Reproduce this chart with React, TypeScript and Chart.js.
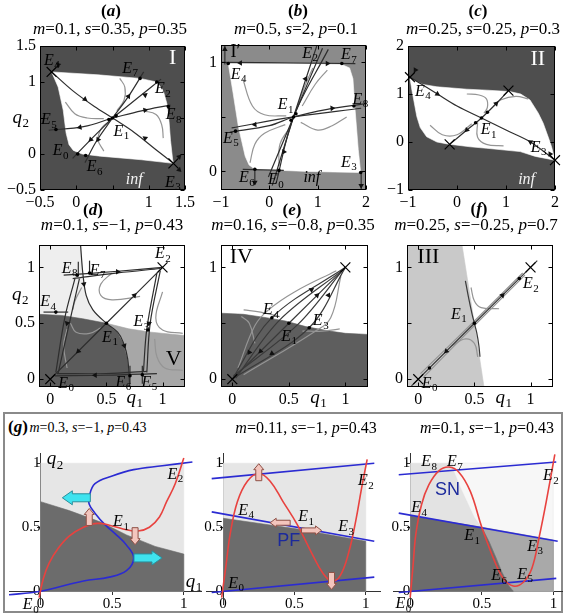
import React, { useEffect, useRef } from 'react';
import { Chart, registerables } from 'chart.js';
Chart.register(...registerables);

type XY = [number, number];
type Arrow = [number, number, number];

const SERIF = '"Liberation Serif", "DejaVu Serif", serif';
const SANS = '"Liberation Sans", "DejaVu Sans", sans-serif';

// ================= (a) m=0.1, s=0.35, p=0.35 =================
const aXTicks = [-0.5, 0, 0.5, 1, 1.5];
const aXLabels = [-0.5, 0, 1, 1.5];
const aYTicks = [-0.5, 0, 0.5, 1, 1.5];
const aYLabels = [-0.5, 0, 1, 1.5];
const aBasin: XY[] = [[-0.34, 1.14], [0.3, 1.1], [0.88, 1.05], [1.11, 1.0], [1.2, 0.88], [1.25, 0.7], [1.28, 0.45], [1.3, 0.19], [1.33, -0.08], [1.34, -0.13], [0.9, -0.08], [0.33, -0.03], [0.08, 0.0], [-0.04, 0.05], [-0.1, 0.13], [-0.14, 0.29], [-0.18, 0.61], [-0.25, 0.93], [-0.34, 1.14]];
const aSeparatrices: XY[][] = [
  [[-0.34, 1.14], [-0.05, 0.88], [0.25, 0.66], [0.5, 0.5], [0.8, 0.3], [1.1, 0.06], [1.34, -0.13]],
  [[0.5, 0.5], [0.72, 0.8], [0.93, 1.14]],
  [[0.5, 0.5], [0.85, 0.78], [1.17, 1.04]],
  [[0.5, 0.5], [0.9, 0.6], [1.3, 0.68]],
  [[-0.38, 0.33], [0.1, 0.38], [0.5, 0.5]],
  [[-0.05, -0.06], [0.2, 0.2], [0.5, 0.5]],
  [[0.12, -0.12], [0.28, 0.18], [0.5, 0.5]],
];
const aOrbits: XY[][] = [
  [[-0.15, 0.72], [-0.02, 0.56], [0.15, 0.5], [0.38, 0.49]],
  [[0.6, 1.05], [0.67, 0.93], [0.66, 0.75], [0.56, 0.6]],
  [[0.92, 0.6], [1.1, 0.55], [1.18, 0.4], [1.2, 0.22]],
  [[0.38, 0.04], [0.3, 0.2], [0.35, 0.36], [0.45, 0.45]],
];
const aSaddles: XY[] = [[-0.34, 1.14], [1.34, -0.13]];
const aNodes: XY[] = [[0.5, 0.5], [0.45, 0.48], [0.55, 0.53], [0.88, 1.05], [1.11, 1.0], [1.27, 0.66], [-0.28, 0.34], [0.02, 0.0], [0.13, -0.02]];
const aArrows: Arrow[] = [[0.12, 0.76, -37], [0.95, 0.22, 143], [0.72, 0.8, 55], [0.95, 0.82, 37], [0.95, 0.61, 11], [0.05, 0.37, 191], [0.2, 0.2, 225], [0.3, 0.2, 236], [-0.25, 1.24, 135], [1.42, -0.04, 45], [1.42, -0.22, -45]];

// ================= (b) m=0.5, s=2, p=0.1 =================
const bXTicks = [-1, 0, 1, 2];
const bXLabels = [-1, 0, 1, 2];
const bYTicks = [0, 0.5, 1];
const bYLabels = [0, 1];
const bBasin: XY[] = [[-0.85, 0.99], [0.3, 0.99], [1.5, 0.98], [1.66, 0.95], [1.73, 0.85], [1.77, 0.59], [1.84, 0.2], [1.89, -0.01], [0.8, 0.0], [-0.3, 0.02], [-0.42, 0.06], [-0.5, 0.14], [-0.64, 0.41], [-0.75, 0.72], [-0.85, 0.99]];
const bSeparatrices: XY[][] = [
  [[0.06, -0.13], [0.5, 0.5], [0.98, 1.15]],
  [[-0.02, -0.05], [0.5, 0.5], [1.1, 1.13]],
  [[0.14, -0.11], [0.5, 0.5], [1.22, 1.12]],
  [[-0.82, 0.36], [0.0, 0.42], [0.5, 0.5], [1.2, 0.57], [1.97, 0.62]],
  [[-0.78, 0.4], [0.5, 0.5], [1.9, 0.58]],
  [[-0.98, 1.0], [0.5, 0.995], [1.78, 0.99]],
  [[-0.92, 0.98], [-0.92, 1.15]],
  [[-0.55, 0.02], [0.3, 0.01]],
  [[-0.3, 0.01], [-0.3, -0.12]],
  [[1.9, 0.0], [1.9, -0.16]],
];
const bOrbits: XY[][] = [
  [[-0.55, 0.85], [-0.35, 0.6], [-0.1, 0.52], [0.35, 0.51]],
  [[1.2, 0.93], [0.95, 0.8], [0.68, 0.6]],
  [[0.9, 0.95], [0.75, 0.8], [0.6, 0.62]],
  [[0.33, 0.43], [-0.1, 0.35], [-0.3, 0.25], [-0.4, 0.08]],
  [[0.42, 0.4], [0.22, 0.25], [0.2, 0.05]],
  [[0.65, 0.45], [1.0, 0.38], [1.3, 0.42], [1.6, 0.5]],
];
const bNodes: XY[] = [[0.5, 0.5], [0.45, 0.47], [0.55, 0.53], [1.5, 0.99], [-0.85, 0.99], [-0.7, 0.37], [1.75, 0.6], [1.89, -0.01], [-0.3, 0.02], [0.2, 0.01]];
const bArrows: Arrow[] = [[0.3, 0.18, 237], [0.75, 0.85, 57], [-0.3, 0.43, 185], [1.3, 0.58, 5], [1.2, 0.99, 0], [-0.6, 0.995, 180], [-0.92, 1.12, 90], [1.9, -0.13, 270], [-0.3, -0.1, 270]];

// ================= (c) m=0.25, s=0.25, p=0.3 =================
const cXTicks = [-1, 0, 1, 2];
const cXLabels = [-1, 0, 1, 2];
const cYTicks = [-1, 0, 1, 2];
const cYLabels = [-1, 0, 1, 2];
const cBasin: XY[] = [[-0.96, 1.33], [-0.7, 1.2], [-0.41, 1.15], [0.2, 1.1], [0.61, 1.08], [1.08, 1.05], [1.3, 1.0], [1.49, 0.875], [1.66, 0.6], [1.76, 0.39], [1.88, 0.05], [1.93, -0.1], [2.0, -0.38], [1.6, -0.3], [1.29, -0.2], [0.6, -0.13], [0.27, -0.1], [-0.2, -0.04], [-0.41, 0.0], [-0.62, 0.11], [-0.75, 0.3], [-0.82, 0.53], [-0.92, 1.08], [-0.96, 1.33]];
const cSeparatrices: XY[][] = [
  [[-0.96, 1.35], [-0.4, 1.0], [0.0, 0.75], [0.5, 0.5], [1.0, 0.25], [1.5, 0.0], [2.0, -0.38]],
  [[-0.15, -0.05], [0.2, 0.25], [0.5, 0.5], [0.8, 0.8], [1.05, 1.07]],
];
const cOrbits: XY[][] = [
  [[0.2, 1.0], [0.45, 0.98], [0.6, 0.9], [0.62, 0.72], [0.55, 0.6]],
  [[0.75, 0.75], [0.9, 0.88], [1.2, 0.95], [1.45, 0.9]],
  [[-0.55, 0.35], [-0.3, 0.15], [0.0, 0.15], [0.3, 0.38]],
  [[0.42, 0.4], [0.42, 0.1], [0.6, -0.05], [0.95, -0.08]],
];
const cSaddles: XY[] = [[-0.96, 1.35], [2.0, -0.38], [1.05, 1.07], [-0.15, -0.05]];
const cNodes: XY[] = [[0.5, 0.5], [0.62, 0.62], [0.38, 0.4]];
const cArrows: Arrow[] = [[-0.4, 1.0, -32], [1.5, 0.0, 148], [0.2, 0.25, 225], [0.8, 0.8, 45], [-0.85, 1.5, 120], [1.9, -0.25, 120]];

// ================= (d) m=0.1, s=-1, p=0.43 =================
const unitTicks = [0, 0.5, 1];
const dYLabels = [0, 0.5, 1];
const dLight: XY[] = [[-0.1, 1.2], [0.27, 1.2], [0.29, 0.95], [0.32, 0.75], [0.38, 0.62], [0.5, 0.5], [0.29, 0.54], [-0.1, 0.58]];
const dDark: XY[] = [[-0.1, 0.58], [0.1, 0.57], [0.29, 0.54], [0.5, 0.5], [0.6, 0.42], [0.65, 0.33], [0.69, 0.18], [0.71, 0.0], [0.71, -0.1], [-0.1, -0.1]];
const dMedium: XY[] = [[0.5, 0.5], [0.7, 0.45], [0.9, 0.42], [1.2, 0.39], [1.2, -0.1], [0.71, -0.1], [0.71, 0.0], [0.69, 0.18], [0.65, 0.33], [0.6, 0.42], [0.5, 0.5]];
const dSeparatrices: XY[][] = [
  [[0.0, 0.0], [0.5, 0.5], [1.0, 1.0]],
  [[0.27, 1.2], [0.29, 0.95], [0.32, 0.75], [0.38, 0.62], [0.5, 0.5], [0.6, 0.42], [0.65, 0.33], [0.69, 0.18], [0.71, -0.1]],
  [[0.12, 0.93], [0.6, 0.965], [1.0, 1.0]],
  [[0.2, 0.9], [0.6, 0.95], [0.98, 0.99]],
  [[0.22, 0.9], [0.13, 0.55], [0.05, 0.06]],
  [[0.26, 0.9], [0.17, 0.5], [0.07, 0.05]],
  [[-0.06, 0.6], [0.16, 0.6]],
  [[0.04, 0.03], [0.5, 0.035], [0.95, 0.05]],
  [[0.06, 0.05], [0.5, 0.05], [0.86, 0.07]],
  [[0.98, 0.97], [0.89, 0.5], [0.86, 0.06]],
  [[0.95, 0.95], [0.86, 0.45], [0.83, 0.07]],
  [[0.25, 1.05], [0.25, 0.92]],
  [[0.35, 1.06], [0.35, 0.94]],
  [[0.71, 0.12], [0.71, -0.04]],
  [[0.82, 0.12], [0.82, -0.04]],
];
const dOrbits: XY[][] = [
  [[0.55, 0.95], [0.45, 0.85], [0.45, 0.75], [0.55, 0.71], [0.8, 0.74]],
  [[1.0, 0.78], [0.94, 0.55], [1.0, 0.44], [1.18, 0.41]],
  [[0.93, 0.36], [0.95, 0.2], [1.02, 0.1], [1.18, 0.08]],
  [[0.18, 0.5], [0.23, 0.42], [0.35, 0.41], [0.45, 0.46]],
  [[0.15, 0.45], [0.12, 0.3], [0.15, 0.1]],
  [[0.28, 0.82], [0.22, 0.7], [0.2, 0.62]],
];
const dSaddles: XY[] = [[0, 0], [1, 1]];
const dNodes: XY[] = [[0.5, 0.5], [0.87, 0.44], [0.05, 0.6], [0.24, 0.93], [0.35, 0.95], [0.71, 0.03], [0.82, 0.04]];
const dArrows: Arrow[] = [[0.25, 0.25, 225], [0.75, 0.75, 45], [0.6, 0.96, 0], [0.4, 0.035, 180], [0.15, 0.5, 255], [0.88, 0.5, 265], [0.3, 0.85, 280], [0.66, 0.3, 290]];

// ================= (e) m=0.16, s=-0.8, p=0.35 =================
const eYLabels = [0, 1];
const eDark: XY[] = [[-0.1, 0.59], [0.1, 0.58], [0.3, 0.55], [0.47, 0.52], [0.65, 0.47], [0.86, 0.43], [1.0, 0.41], [1.2, 0.4], [1.2, -0.1], [-0.1, -0.1]];
const eSeparatrices: XY[][] = [
  [[0.0, 0.0], [0.35, 0.55], [1.0, 1.0]],
  [[0.0, 0.0], [0.5, 0.5], [1.0, 1.0]],
  [[0.0, 0.0], [0.68, 0.46], [1.0, 1.0]],
  [[0.03, 0.01], [0.42, 0.53], [0.98, 0.98]],
  [[0.01, 0.03], [0.58, 0.49], [0.98, 0.98]],
];
const eOrbits: XY[][] = [
  [[0.05, 0.1], [0.2, 0.48], [0.32, 0.62], [0.55, 0.78], [0.92, 0.97]],
  [[0.1, 0.04], [0.72, 0.42], [0.87, 0.55], [0.96, 0.92]],
  [[0.1, 0.62], [0.25, 0.6], [0.42, 0.56]],
  [[0.62, 0.43], [0.8, 0.43], [0.95, 0.45]],
  [[0.08, 0.56], [0.15, 0.5], [0.2, 0.32]],
];
const eSaddles: XY[] = [[0, 0], [1, 1]];
const eNodes: XY[] = [[0.35, 0.55], [0.5, 0.5], [0.68, 0.46]];
const eArrows: Arrow[] = [[0.15, 0.24, 237], [0.25, 0.25, 225], [0.35, 0.23, 214], [0.7, 0.8, 34], [0.75, 0.75, 45], [0.85, 0.75, 60]];

// ================= (f) m=0.25, s=-0.25, p=0.7 =================
const fLeftRegion: XY[] = [[-0.1, 1.2], [0.39, 1.2], [0.5, 0.5], [0.59, -0.1], [-0.1, -0.1]];
const fSeparatrices: XY[][] = [
  [[-0.06, -0.06], [1.06, 1.06]],
  [[0.42, 0.88], [0.45, 0.72], [0.48, 0.58], [0.5, 0.5], [0.52, 0.42], [0.54, 0.3], [0.55, 0.2]],
];
const fOrbits: XY[][] = [
  [[0.05, 0.02], [0.5, 0.48], [0.95, 0.93]],
  [[0.02, 0.05], [0.5, 0.52], [0.93, 0.95]],
  [[0.47, 0.82], [0.5, 0.7], [0.56, 0.64], [0.72, 0.63]],
  [[0.3, 0.3], [0.42, 0.36], [0.5, 0.32], [0.53, 0.2]],
];
const fSaddles: XY[] = [[0, 0], [1, 1]];
const fNodes: XY[] = [[0.5, 0.5], [0.9, 0.9], [0.1, 0.1]];
const fArrows: Arrow[] = [[0.25, 0.25, 225], [0.75, 0.75, 45]];

// ================= (g) nullclines =================
const gTicks = [0, 0.5, 1];
const gSquare: XY[] = [[0, 0], [1, 0], [1, 1], [0, 1]];
// g1: m=0.3
const g1Basin: XY[] = [[0, 0], [1, 0], [1, 0.29], [0.8, 0.35], [0.6, 0.44], [0.42, 0.54], [0.2, 0.63], [0, 0.7]];
const g1Red: XY[] = [[-0.01, -0.05], [0.02, 0.1], [0.06, 0.22], [0.12, 0.33], [0.2, 0.43], [0.3, 0.5], [0.4, 0.53], [0.5, 0.51], [0.6, 0.48], [0.68, 0.47], [0.76, 0.5], [0.83, 0.58], [0.88, 0.7], [0.94, 0.84], [1.0, 1.04]];
const g1Blue: XY[] = [[-0.24, -0.03], [0.0, 0.0], [0.3, 0.08], [0.48, 0.11], [0.6, 0.16], [0.65, 0.26], [0.6, 0.36], [0.52, 0.45], [0.45, 0.52], [0.38, 0.61], [0.34, 0.68], [0.34, 0.74], [0.38, 0.84], [0.5, 0.9], [0.65, 0.95], [0.85, 0.98], [1.06, 1.01]];
// g2: m=0.11
const g2Basin: XY[] = [[0, 0], [1, 0], [1, 0.39], [0.5, 0.49], [0, 0.57]];
const g2BlueTop: XY[] = [[-0.08, 0.88], [1.06, 1.0]];
const g2BlueMid: XY[] = [[-0.08, 0.62], [1.06, 0.39]];
const g2BlueLow: XY[] = [[-0.08, -0.01], [1.06, 0.11]];
const g2Red: XY[] = [[-0.01, -0.05], [0.02, 0.2], [0.05, 0.45], [0.1, 0.7], [0.17, 0.86], [0.25, 0.92], [0.33, 0.86], [0.42, 0.7], [0.52, 0.52], [0.62, 0.3], [0.7, 0.14], [0.76, 0.08], [0.82, 0.12], [0.88, 0.3], [0.93, 0.55], [0.97, 0.8], [1.01, 1.03]];
// g3: m=0.1
const g3White: XY[] = [[0.3, 1.0], [1.0, 1.0], [1.0, 0.4], [0.5, 0.5], [0.45, 0.58], [0.4, 0.7], [0.35, 0.82], [0.3, 0.96]];
const g3Medium: XY[] = [[0.5, 0.5], [1.0, 0.4], [1.0, 0.0], [0.72, 0.0], [0.69, 0.04], [0.64, 0.15], [0.6, 0.26], [0.55, 0.39]];
const g3Dark: XY[] = [[0, 0], [0.72, 0], [0.69, 0.04], [0.64, 0.15], [0.6, 0.26], [0.55, 0.39], [0.5, 0.5], [0, 0.59]];
const g3BlueTop: XY[] = [[-0.08, 0.91], [1.02, 1.01]];
const g3BlueMid: XY[] = [[-0.08, 0.61], [1.03, 0.39]];
const g3BlueLow: XY[] = [[-0.08, -0.01], [1.02, 0.1]];
const g3Red: XY[] = [[0.0, -0.05], [0.02, 0.2], [0.04, 0.45], [0.08, 0.68], [0.13, 0.83], [0.2, 0.94], [0.27, 0.97], [0.34, 0.93], [0.42, 0.78], [0.5, 0.5], [0.58, 0.26], [0.65, 0.1], [0.72, 0.04], [0.79, 0.07], [0.85, 0.18], [0.9, 0.42], [0.95, 0.7], [1.01, 1.07]];

// ---------------------------------------------------------------
interface TextItem { at: XY; t: string; sub?: string; size?: number; color?: string; italic?: boolean; bold?: boolean; sans?: boolean }
interface Block { at: XY; dir: 'l' | 'r' | 'u' | 'd'; kind: 'cyan' | 'pink' | 'pinkH' }
interface Layer { pts: XY[]; color: string; width?: number; fill?: boolean; tension?: number }
interface Spec {
  box: [number, number, number, number];
  pad: [number, number, number, number];
  xr: [number, number]; yr: [number, number];
  bg?: string; frame: boolean;
  xTicks: number[]; xLabels: number[]; yTicks: number[]; yLabels: number[];
  layers: Layer[]; crosses?: XY[]; dots?: XY[]; arrows?: Arrow[]; texts?: TextItem[]; blocks?: Block[];
}

const E = (x: number, y: number, n: number | string, color?: string): TextItem => ({ at: [x, y], t: 'E', sub: String(n), italic: true, color });
const Q = (x: number, y: number, n: number): TextItem => ({ at: [x, y], t: 'q', sub: String(n), italic: true, size: 19 });

const DARKLINE = '#2e2e2e';
const GRAYLINE = '#959595';
const RED = '#e8423f';
const BLUE = '#2b2bd2';

const sep = (arr: XY[][], color = DARKLINE): Layer[] => arr.map((p) => ({ pts: p, color, width: 1.2, tension: 0.35 }));
const orb = (arr: XY[][], color = GRAYLINE): Layer[] => arr.map((p) => ({ pts: p, color, width: 1.2, tension: 0.4 }));

function gBox(ox: number, sx: number, xr: [number, number]): [number, number, number, number] {
  const oy = 591.5, sy = 128, yr: [number, number] = [-0.1, 1.08];
  return [ox + xr[0] * sx, oy - yr[1] * sy, (xr[1] - xr[0]) * sx, (yr[1] - yr[0]) * sy];
}

const FRAME_PAD: [number, number, number, number] = [40, 14, 16, 24];
const G_PAD: [number, number, number, number] = [3, 14, 3, 10];
const ROW2_Y: [number, number] = [-0.07, 1.2];

const specs: Spec[] = [
  {
    box: [40, 46, 145, 144], pad: FRAME_PAD, xr: [-0.5, 1.5], yr: [-0.5, 1.5], bg: '#4e4e4e', frame: true,
    xTicks: aXTicks, xLabels: aXLabels, yTicks: aYTicks, yLabels: aYLabels,
    layers: [{ pts: aBasin, color: '#ffffff', fill: true }, ...orb(aOrbits), ...sep(aSeparatrices)],
    crosses: aSaddles, dots: aNodes, arrows: aArrows,
    texts: [E(-0.34, 1.3, 4), E(0.74, 1.19, 7), E(1.19, 0.9, 2), E(1.34, 0.54, 8), E(-0.38, 0.47, 5), E(0.62, 0.31, 1), E(-0.22, 0.04, 0), E(0.25, -0.18, 6), E(1.33, -0.4, 3),
      { at: [0.8, -0.36], t: 'inf', italic: true, color: '#f2f2f2' }, { at: [1.33, 1.33], t: 'I', size: 22, color: '#ffffff' }, Q(-0.77, 0.5, 2)],
  },
  {
    box: [221, 45, 145, 145], pad: FRAME_PAD, xr: [-1, 2], yr: [-0.17, 1.16], bg: '#8b8b8b', frame: true,
    xTicks: bXTicks, xLabels: bXLabels, yTicks: bYTicks, yLabels: bYLabels,
    layers: [{ pts: bBasin, color: '#ffffff', fill: true }, ...orb(bOrbits), ...sep(bSeparatrices)],
    dots: bNodes, arrows: bArrows,
    texts: [{ at: [-0.7, 1.09], t: 'I\u2032', size: 18 }, E(0.84, 1.08, 2), E(1.64, 1.07, 7), E(-0.64, 0.89, 4), E(1.88, 0.66, 8), E(0.33, 0.61, 1), E(-0.8, 0.3, 5), E(1.64, 0.08, 3), E(-0.47, -0.06, 6), E(0.13, -0.08, 0),
      { at: [0.88, -0.06], t: 'inf', italic: true }],
  },
  {
    box: [408, 46, 147, 144], pad: [40, 14, 12, 24], xr: [-1, 2], yr: [-1, 2], bg: '#4e4e4e', frame: true,
    xTicks: cXTicks, xLabels: cXLabels, yTicks: cYTicks, yLabels: cYLabels,
    layers: [{ pts: cBasin, color: '#ffffff', fill: true }, ...orb(cOrbits), ...sep(cSeparatrices)],
    crosses: cSaddles, dots: cNodes, arrows: cArrows,
    texts: [E(-0.7, 1.05, 4), E(0.64, 0.25, 1), E(1.66, -0.12, 3), { at: [1.42, -0.79], t: 'inf', italic: true, color: '#f2f2f2' }, { at: [1.65, 1.72], t: 'II', size: 22, color: '#ffffff' }],
  },
  {
    box: [39, 245, 146, 142], pad: FRAME_PAD, xr: [-0.1, 1.2], yr: ROW2_Y, bg: '#ffffff', frame: true,
    xTicks: unitTicks, xLabels: unitTicks, yTicks: unitTicks, yLabels: dYLabels,
    layers: [{ pts: dLight, color: '#eeeeee', fill: true }, { pts: dDark, color: '#5b5b5b', fill: true }, { pts: dMedium, color: '#a7a7a7', fill: true }, ...orb(dOrbits), ...sep(dSeparatrices)],
    crosses: dSaddles, dots: dNodes, arrows: dArrows,
    texts: [E(0.17, 0.99, 8), E(0.42, 0.97, 7), E(1.0, 1.12, 2), E(-0.02, 0.69, 4), E(0.81, 0.51, 3), E(0.53, 0.37, 1), { at: [1.1, 0.18], t: 'V', size: 22 }, E(0.14, -0.04, 0), E(0.65, -0.03, 6), E(0.88, -0.03, 5), Q(-0.27, 0.75, 2), Q(0.75, -0.17, 1)],
  },
  {
    box: [221, 245, 147, 142], pad: FRAME_PAD, xr: [-0.1, 1.2], yr: ROW2_Y, bg: '#ffffff', frame: true,
    xTicks: unitTicks, xLabels: unitTicks, yTicks: unitTicks, yLabels: eYLabels,
    layers: [{ pts: eDark, color: '#5e5e5e', fill: true }, ...orb(eOrbits), ...sep(eSeparatrices, '#3a3a3a')],
    crosses: eSaddles, dots: eNodes, arrows: eArrows,
    texts: [{ at: [0.08, 1.09], t: 'IV', size: 22 }, E(0.34, 0.62, 4), E(0.78, 0.52, 3), E(0.5, 0.38, 1), Q(0.76, -0.17, 1)],
  },
  {
    box: [407, 245, 146, 142], pad: [40, 14, 12, 24], xr: [-0.1, 1.2], yr: ROW2_Y, bg: '#ffffff', frame: true,
    xTicks: unitTicks, xLabels: unitTicks, yTicks: unitTicks, yLabels: eYLabels,
    layers: [{ pts: fLeftRegion, color: '#c9c9c9', fill: true }, ...orb(fOrbits), ...sep(fSeparatrices, '#3a3a3a')],
    crosses: fSaddles, dots: fNodes, arrows: fArrows,
    texts: [{ at: [0.09, 1.09], t: 'III', size: 22 }, E(0.36, 0.58, 1), E(1.0, 0.85, 2), E(0.1, -0.04, 0), Q(0.76, -0.17, 1)],
  },
  {
    box: gBox(40, 143, [-0.22, 1.12]), pad: G_PAD, xr: [-0.22, 1.12], yr: [-0.1, 1.08], frame: false,
    xTicks: gTicks, xLabels: gTicks, yTicks: gTicks, yLabels: gTicks,
    layers: [{ pts: gSquare, color: '#e6e6e6', fill: true }, { pts: g1Basin, color: '#6c6c6c', fill: true }, { pts: g1Blue, color: BLUE, width: 1.6, tension: 0.4 }, { pts: g1Red, color: RED, width: 1.6, tension: 0.4 }],
    blocks: [{ at: [0.25, 0.73], dir: 'l', kind: 'cyan' }, { at: [0.75, 0.26], dir: 'r', kind: 'cyan' }, { at: [0.34, 0.58], dir: 'u', kind: 'pink' }, { at: [0.66, 0.43], dir: 'd', kind: 'pink' }],
    texts: [E(0.94, 0.91, 2), E(0.56, 0.54, 1), E(-0.07, -0.11, 0), Q(0.1, 1.03, 2), Q(1.07, 0.07, 1)],
  },
  {
    box: gBox(223.3, 143, [-0.12, 1.1]), pad: G_PAD, xr: [-0.12, 1.1], yr: [-0.1, 1.08], frame: false,
    xTicks: gTicks, xLabels: gTicks, yTicks: gTicks, yLabels: gTicks,
    layers: [{ pts: gSquare, color: '#e6e6e6', fill: true }, { pts: g2Basin, color: '#6c6c6c', fill: true }, { pts: g2BlueTop, color: BLUE, width: 1.6 }, { pts: g2BlueMid, color: BLUE, width: 1.6 }, { pts: g2BlueLow, color: BLUE, width: 1.6 }, { pts: g2Red, color: RED, width: 1.6, tension: 0.4 }],
    blocks: [{ at: [0.25, 0.93], dir: 'u', kind: 'pink' }, { at: [0.76, 0.08], dir: 'd', kind: 'pink' }, { at: [0.4, 0.535], dir: 'l', kind: 'pinkH' }, { at: [0.62, 0.475], dir: 'r', kind: 'pinkH' }],
    texts: [E(0.16, 0.63, 4), E(0.58, 0.58, 1), E(0.86, 0.5, 3), E(1.0, 0.86, 2), E(0.09, 0.06, 0), { at: [0.46, 0.39], t: 'PF', sans: true, size: 18, color: '#1c2a9c' }],
  },
  {
    box: gBox(410, 143, [-0.12, 1.06]), pad: G_PAD, xr: [-0.12, 1.06], yr: [-0.1, 1.08], frame: false,
    xTicks: gTicks, xLabels: gTicks, yTicks: gTicks, yLabels: gTicks,
    layers: [{ pts: gSquare, color: '#e3e3e3', fill: true }, { pts: g3White, color: '#f7f7f7', fill: true }, { pts: g3Medium, color: '#a9a9a9', fill: true }, { pts: g3Dark, color: '#6c6c6c', fill: true }, { pts: g3BlueTop, color: BLUE, width: 1.6 }, { pts: g3BlueMid, color: BLUE, width: 1.6 }, { pts: g3BlueLow, color: BLUE, width: 1.6 }, { pts: g3Red, color: RED, width: 1.6, tension: 0.4 }],
    texts: [E(0.13, 1.01, 8), E(0.31, 1.01, 7), { at: [0.26, 0.79], t: 'SN', sans: true, size: 18, color: '#1c2a9c' }, E(0.98, 0.9, 2), E(0.06, 0.65, 4), E(0.43, 0.43, 1), E(0.87, 0.35, 3), E(0.62, 0.12, 6), E(0.8, 0.13, 5), E(-0.05, -0.1, 0)],
  },
];

const fmt = (v: number) => (v < 0 ? '\u2212' + String(Math.abs(v)) : String(v));

function drawText(ctx: CanvasRenderingContext2D, px: number, py: number, it: TextItem) {
  const size = it.size ?? 16;
  const fam = it.sans ? SANS : SERIF;
  const style = (it.italic ? 'italic ' : '') + (it.bold ? 'bold ' : '');
  const subSize = Math.round(size * 0.68);
  ctx.font = `${style}${size}px ${fam}`;
  const w1 = ctx.measureText(it.t).width;
  let w2 = 0;
  if (it.sub) { ctx.font = `${subSize}px ${fam}`; w2 = ctx.measureText(it.sub).width; }
  const x0 = px - (w1 + w2) / 2;
  ctx.fillStyle = it.color ?? '#000';
  ctx.textAlign = 'left';
  ctx.textBaseline = 'middle';
  ctx.font = `${style}${size}px ${fam}`;
  ctx.fillText(it.t, x0, py);
  if (it.sub) { ctx.font = `${subSize}px ${fam}`; ctx.fillText(it.sub, x0 + w1 + 0.5, py + size * 0.3); }
}

function drawBlock(ctx: CanvasRenderingContext2D, x: number, y: number, b: Block) {
  const dims = b.kind === 'cyan' ? { len: 28, shaft: 8, hw: 14, hl: 10, fill: '#3fe3ef', stroke: '#2a8f9c' }
    : b.kind === 'pink' ? { len: 17, shaft: 6, hw: 10, hl: 6, fill: '#f3c5bd', stroke: '#8f5046' }
      : { len: 20, shaft: 5, hw: 9, hl: 6, fill: '#f3c5bd', stroke: '#8f5046' };
  const rot = { r: 0, d: Math.PI / 2, l: Math.PI, u: -Math.PI / 2 }[b.dir];
  const h = dims.len / 2;
  ctx.save();
  ctx.translate(x, y);
  ctx.rotate(rot);
  ctx.beginPath();
  ctx.moveTo(-h, -dims.shaft / 2);
  ctx.lineTo(h - dims.hl, -dims.shaft / 2);
  ctx.lineTo(h - dims.hl, -dims.hw / 2);
  ctx.lineTo(h, 0);
  ctx.lineTo(h - dims.hl, dims.hw / 2);
  ctx.lineTo(h - dims.hl, dims.shaft / 2);
  ctx.lineTo(-h, dims.shaft / 2);
  ctx.closePath();
  ctx.fillStyle = dims.fill;
  ctx.fill();
  ctx.strokeStyle = dims.stroke;
  ctx.lineWidth = 1;
  ctx.stroke();
  ctx.restore();
}

function Panel({ spec }: { spec: Spec }) {
  const ref = useRef<HTMLCanvasElement | null>(null);
  const [l, t, w, h] = spec.box;
  const [pl, pt, pr, pb] = spec.pad;
  const W = Math.round(w + pl + pr);
  const H = Math.round(h + pt + pb);
  useEffect(() => {
    const canvas = ref.current;
    if (!canvas) return;
    const datasets: any[] = spec.layers.map((L, i) => ({
      data: L.pts.map(([x, y]) => ({ x, y })),
      borderColor: L.color,
      borderWidth: L.fill ? 0.6 : (L.width ?? 1.2),
      backgroundColor: L.color,
      fill: L.fill ? 'shape' : false,
      tension: L.tension ?? 0,
      pointRadius: 0,
      order: 1000 - i,
    }));
    if (spec.arrows) datasets.push({
      data: spec.arrows.map(([x, y]) => ({ x, y })), showLine: false, pointStyle: 'triangle', pointRadius: 3.2,
      pointBackgroundColor: '#111', pointBorderColor: '#111', pointBorderWidth: 0, pointRotation: spec.arrows.map((a) => 90 - a[2]), order: 3, clip: 10,
    });
    if (spec.dots) datasets.push({
      data: spec.dots.map(([x, y]) => ({ x, y })), showLine: false, pointStyle: 'circle', pointRadius: 1.8,
      pointBackgroundColor: '#000', pointBorderWidth: 0, order: 2, clip: 10,
    });
    if (spec.crosses) datasets.push({
      data: spec.crosses.map(([x, y]) => ({ x, y })), showLine: false, pointStyle: 'crossRot', pointRadius: 7,
      pointBorderColor: '#000', pointBorderWidth: 1.2, order: 1, clip: 12,
    });

    const tickFont = { family: SERIF, size: 16 };
    const labelCb = (labels: number[]) => (v: any) => {
      const n = Number(v);
      return labels.some((q) => Math.abs(q - n) < 1e-9) ? fmt(n) : '';
    };
    const frameScale = (axis: 'x' | 'y') => ({
      type: 'linear',
      min: axis === 'x' ? spec.xr[0] : spec.yr[0],
      max: axis === 'x' ? spec.xr[1] : spec.yr[1],
      position: axis === 'x' ? 'bottom' : 'left',
      grid: { display: false, drawTicks: false },
      border: { display: false },
      afterBuildTicks: (s: any) => { s.ticks = (axis === 'x' ? spec.xTicks : spec.yTicks).map((v) => ({ value: v })); },
      afterFit: (s: any) => { if (axis === 'x') s.height = pb; else s.width = pl; },
      ticks: { callback: labelCb(axis === 'x' ? spec.xLabels : spec.yLabels), font: tickFont, color: '#000', padding: axis === 'x' ? 3 : 4, autoSkip: false, maxRotation: 0, minRotation: 0 },
    });
    const gScale = (axis: 'x' | 'y') => ({
      type: 'linear',
      min: axis === 'x' ? spec.xr[0] : spec.yr[0],
      max: axis === 'x' ? spec.xr[1] : spec.yr[1],
      position: axis === 'x' ? { y: 0 } : { x: 0 },
      grid: { display: true, drawOnChartArea: false, drawTicks: true, tickLength: 3, color: '#333' },
      border: { display: true, color: '#333', width: 1 },
      afterBuildTicks: (s: any) => { s.ticks = (axis === 'x' ? spec.xTicks : spec.yTicks).map((v) => ({ value: v })); },
      ticks: { callback: labelCb(axis === 'x' ? spec.xLabels : spec.yLabels), font: { family: SERIF, size: 15 }, color: '#000', padding: 1, autoSkip: false, maxRotation: 0, minRotation: 0 },
    });

    const overlay = {
      id: 'overlay',
      beforeDatasetsDraw(chart: any) {
        const { ctx, chartArea: a } = chart;
        if (spec.bg) {
          ctx.save();
          ctx.fillStyle = spec.bg;
          ctx.fillRect(a.left, a.top, a.right - a.left, a.bottom - a.top);
          ctx.restore();
        }
      },
      afterDatasetsDraw(chart: any) {
        const { ctx, chartArea: a, scales } = chart;
        const X = (v: number) => scales.x.getPixelForValue(v);
        const Y = (v: number) => scales.y.getPixelForValue(v);
        ctx.save();
        if (spec.frame) {
          ctx.strokeStyle = '#000';
          ctx.lineWidth = 1;
          const L0 = Math.round(a.left) + 0.5, T0 = Math.round(a.top) + 0.5, R0 = Math.round(a.right) - 0.5, B0 = Math.round(a.bottom) - 0.5;
          ctx.strokeRect(L0, T0, R0 - L0, B0 - T0);
          ctx.beginPath();
          spec.xTicks.forEach((v) => { const p = Math.round(X(v)) + 0.5; ctx.moveTo(p, B0); ctx.lineTo(p, B0 - 4); ctx.moveTo(p, T0); ctx.lineTo(p, T0 + 4); });
          spec.yTicks.forEach((v) => { const p = Math.round(Y(v)) + 0.5; ctx.moveTo(L0, p); ctx.lineTo(L0 + 4, p); ctx.moveTo(R0, p); ctx.lineTo(R0 - 4, p); });
          ctx.stroke();
        }
        (spec.blocks ?? []).forEach((b) => drawBlock(ctx, X(b.at[0]), Y(b.at[1]), b));
        (spec.texts ?? []).forEach((it) => drawText(ctx, X(it.at[0]), Y(it.at[1]), it));
        ctx.restore();
      },
    };

    const chart = new Chart(canvas, {
      type: 'line',
      data: { datasets },
      options: {
        animation: false,
        responsive: false,
        maintainAspectRatio: false,
        devicePixelRatio: 1,
        events: [],
        layout: { padding: spec.frame ? { left: 0, top: pt, right: pr, bottom: 0 } : { left: pl, top: pt, right: pr, bottom: pb } },
        plugins: { legend: { display: false }, tooltip: { enabled: false }, title: { display: false } },
        scales: spec.frame ? { x: frameScale('x'), y: frameScale('y') } : { x: gScale('x'), y: gScale('y') },
      } as any,
      plugins: [overlay as any],
    } as any);
    return () => chart.destroy();
  }, [spec]);
  return <canvas ref={ref} width={W} height={H} style={{ position: 'absolute', left: l - pl, top: t - pt, width: W, height: H }} />;
}

interface TitleDef { cx: number; cy: number; m: string; s: string; p: string; size: number }
const titles: TitleDef[] = [
  { cx: 110, cy: 29, m: '0.1', s: '0.35', p: '0.35', size: 17 },
  { cx: 296, cy: 29, m: '0.5', s: '2', p: '0.1', size: 17 },
  { cx: 483, cy: 29, m: '0.25', s: '0.25', p: '0.3', size: 17 },
  { cx: 112, cy: 225, m: '0.1', s: '\u22121', p: '0.43', size: 17 },
  { cx: 293, cy: 225, m: '0.16', s: '\u22120.8', p: '0.35', size: 17 },
  { cx: 476, cy: 225, m: '0.25', s: '\u22120.25', p: '0.7', size: 17 },
  { cx: 88, cy: 428, m: '0.3', s: '\u22121', p: '0.43', size: 14 },
  { cx: 306, cy: 428, m: '0.11', s: '\u22121', p: '0.43', size: 16 },
  { cx: 487, cy: 428, m: '0.1', s: '\u22121', p: '0.43', size: 16 },
];
const panelLetters: { cx: number; cy: number; ch: string }[] = [
  { cx: 111, cy: 11, ch: 'a' }, { cx: 298, cy: 11, ch: 'b' }, { cx: 478, cy: 11, ch: 'c' },
  { cx: 93, cy: 210, ch: 'd' }, { cx: 292, cy: 210, ch: 'e' }, { cx: 479, cy: 209, ch: 'f' },
  { cx: 18, cy: 427, ch: 'g' },
];

export default function App() {
  return (
    <div style={{ position: 'absolute', left: 0, top: 0, width: 567, height: 616, overflow: 'hidden', background: '#fff', fontFamily: SERIF }}>
      <div style={{ position: 'absolute', left: 3, top: 412, width: 560, height: 201, border: '2px solid #8a8a8a', boxSizing: 'border-box' }} />
      {specs.map((s, i) => <Panel key={i} spec={s} />)}
      {titles.map((t, i) => (
        <div key={'t' + i} style={{ position: 'absolute', left: t.cx - 150, top: t.cy - 11, width: 300, height: 22, lineHeight: '22px', textAlign: 'center', fontSize: t.size, whiteSpace: 'nowrap', color: '#000' }}>
          <i>m</i>={t.m}, <i>s</i>={t.s}, <i>p</i>={t.p}
        </div>
      ))}
      {panelLetters.map((p, i) => (
        <div key={'l' + i} style={{ position: 'absolute', left: p.cx - 30, top: p.cy - 11, width: 60, height: 22, lineHeight: '22px', textAlign: 'center', fontSize: 17, fontWeight: 'bold', whiteSpace: 'nowrap', color: '#000' }}>
          (<i>{p.ch}</i>)
        </div>
      ))}
    </div>
  );
}
